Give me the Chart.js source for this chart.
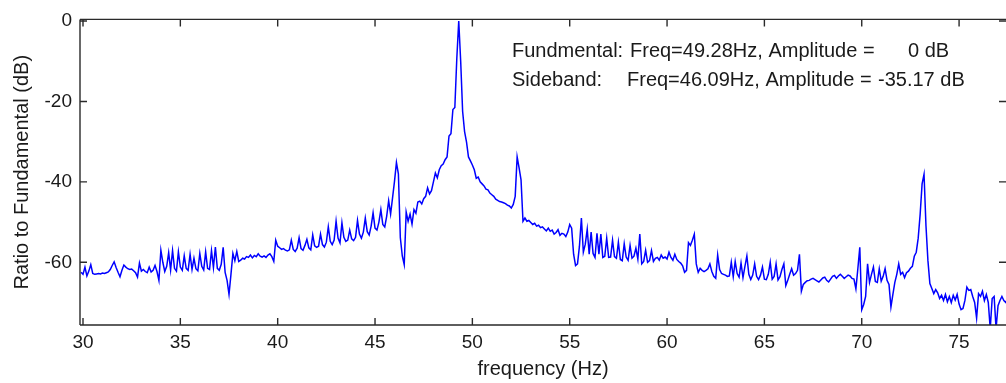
<!DOCTYPE html>
<html><head><meta charset="utf-8">
<script src="https://cdn.jsdelivr.net/npm/chart.js@4/dist/chart.umd.min.js"></script>
<style>html,body{margin:0;padding:0;background:#fff;}#wrap{width:1006px;height:383px;position:relative;}</style>
</head><body><div id="wrap"><canvas id="c" width="1006" height="383"></canvas></div>
<script>
// Spectrum bins (Hz): FFT grid start and bin width
const BIN_START_HZ = 29.9;
const BIN_WIDTH_HZ = 0.1;
// Ratio to fundamental (dB), one value per bin
const DB_29 = [-62.5];
const DB_30_34 = [
-63.0,-61.2,-63.4,-62.2,-60.6,-62.8,-63.0,-62.9,-62.8,-62.9,
-62.7,-62.8,-62.6,-62.4,-61.8,-60.8,-59.9,-61.3,-62.5,-63.6,
-62.0,-60.7,-61.2,-61.6,-61.8,-61.7,-62.1,-62.6,-63.7,-60.2,
-62.2,-61.8,-62.3,-62.6,-61.2,-62.4,-62.0,-60.8,-62.3,-64.5,
-57.0,-60.0,-62.3,-61.0,-57.6,-61.9,-57.1,-61.5,-62.2,-57.4];
const DB_35_39 = [
-61.2,-62.0,-58.4,-61.5,-62.0,-58.0,-61.8,-59.0,-61.6,-62.1,
-57.8,-61.0,-61.9,-57.4,-61.5,-61.8,-57.1,-61.3,-56.2,-61.5,
-62.0,-60.5,-56.3,-62.5,-64.5,-68.0,-63.0,-57.8,-59.6,-57.3,
-59.8,-59.5,-59.0,-59.2,-58.6,-58.8,-58.2,-58.9,-58.3,-58.6,
-57.9,-58.5,-58.7,-58.4,-58.8,-58.2,-57.9,-58.6,-59.8,-54.5];
const DB_40_44 = [
-56.0,-56.4,-56.8,-56.6,-57.0,-57.2,-56.9,-54.5,-56.8,-57.3,
-56.5,-53.9,-56.6,-57.0,-55.8,-54.3,-56.4,-56.9,-53.2,-55.9,
-56.3,-56.0,-53.0,-55.6,-56.2,-55.0,-51.2,-54.8,-55.6,-54.5,
-49.8,-54.0,-55.2,-50.2,-53.8,-54.8,-54.5,-52.0,-54.2,-54.6,
-53.8,-49.6,-53.0,-54.0,-52.5,-49.0,-52.4,-53.2,-51.0,-47.7];
const DB_45_49 = [
-51.5,-52.0,-50.0,-46.9,-50.6,-51.2,-48.5,-44.7,-48.0,-44.0,
-39.9,-35.2,-38.0,-53.9,-58.4,-60.6,-47.5,-49.8,-48.0,-50.5,
-46.9,-47.8,-45.0,-44.8,-45.5,-44.2,-43.6,-41.5,-43.0,-42.2,
-40.0,-37.8,-39.0,-37.0,-36.0,-35.6,-34.5,-33.8,-28.6,-28.0,
-22.0,-21.5,-9.4,0,-10.0,-22.5,-27.5,-30.1,-33.8,-34.8];
const DB_50_54 = [
-35.8,-37.0,-39.1,-38.8,-40.0,-40.5,-41.0,-41.8,-42.0,-42.8,
-43.2,-43.6,-44.3,-44.6,-44.9,-45.0,-45.2,-45.4,-45.8,-46.0,
-46.5,-45.6,-43.6,-33.8,-36.5,-39.5,-49.8,-49.0,-49.8,-49.6,
-50.1,-50.6,-50.3,-51.0,-50.8,-51.4,-51.2,-51.7,-52.2,-51.5,
-52.3,-52.0,-53.0,-52.6,-51.9,-53.3,-52.8,-53.0,-53.6,-52.5];
const DB_55_59 = [
-50.6,-51.5,-58.0,-60.8,-60.4,-56.0,-49.0,-57.5,-55.5,-51.8,
-58.0,-52.5,-57.8,-58.8,-52.8,-58.0,-53.0,-58.8,-58.5,-54.0,
-58.8,-58.7,-54.5,-58.6,-59.0,-55.0,-59.3,-59.6,-55.4,-58.7,
-59.5,-55.8,-59.0,-58.5,-56.5,-59.2,-53.0,-60.4,-59.8,-57.0,
-60.0,-59.6,-57.1,-59.8,-59.0,-58.8,-59.5,-58.2,-59.0,-58.7];
const DB_60_64 = [
-59.2,-57.5,-58.8,-59.5,-58.0,-59.3,-59.8,-60.2,-60.9,-62.5,
-62.0,-55.1,-55.8,-54.5,-53.0,-60.4,-62.5,-61.5,-62.0,-62.3,
-62.0,-61.6,-60.4,-62.3,-63.5,-64.0,-58.2,-61.8,-62.8,-63.0,
-63.2,-63.5,-63.4,-60.0,-63.6,-59.8,-62.8,-63.7,-60.2,-63.8,
-61.0,-58.4,-63.0,-64.3,-63.2,-60.4,-63.5,-64.3,-63.2,-61.2];
const DB_65_69 = [
-64.2,-64.3,-63.0,-60.0,-64.2,-63.5,-60.4,-64.4,-63.6,-61.8,
-60.4,-65.8,-64.5,-63.0,-61.6,-63.2,-62.8,-62.0,-58.0,-67.2,
-65.5,-65.0,-64.6,-64.5,-64.2,-64.0,-64.3,-64.6,-64.9,-64.4,
-63.9,-63.7,-64.5,-64.9,-64.2,-63.5,-63.3,-64.0,-63.4,-63.0,
-63.5,-64.0,-63.6,-63.2,-63.4,-64.0,-64.2,-66.6,-61.6,-56.3];
const DB_70_74 = [
-71.8,-70.5,-68.5,-60.4,-65.0,-63.0,-61.2,-64.8,-65.0,-61.6,
-64.7,-63.5,-61.6,-64.5,-65.5,-71.1,-68.0,-65.0,-63.0,-60.4,
-63.0,-62.5,-63.8,-62.6,-62.2,-61.5,-61.0,-58.5,-57.5,-54.0,
-48.1,-40.5,-38.1,-51.0,-59.6,-65.3,-66.5,-67.8,-66.8,-67.6,
-69.0,-68.2,-69.5,-68.0,-69.8,-68.5,-70.0,-68.2,-69.4,-68.0];
const DB_75_77 = [
-70.4,-71.8,-71.5,-69.5,-66.2,-67.0,-66.8,-68.5,-70.0,-73.9,
-67.8,-68.5,-67.2,-69.5,-68.0,-70.0,-76.5,-69.0,-68.5,-76.5,
-70.8,-69.5,-68.5,-69.5,-70.0,-69.0];

const X_TICKS = [30,35,40,45,50,55,60,65,70,75];
const Y_TICKS = [-60,-40,-20,0];
const X_LABEL = 'frequency (Hz)';
const Y_LABEL = 'Ratio to Fundamental (dB)';
const NOTE_LINES = [
  ['Fundmental:', 'Freq=49.28Hz, Amplitude =', '0 dB'],
  ['Sideband:', 'Freq=46.09Hz, Amplitude =', '-35.17 dB']
];

const DB_ALL = [].concat(DB_29, DB_30_34, DB_35_39, DB_40_44, DB_45_49, DB_50_54,
  DB_55_59, DB_60_64, DB_65_69, DB_70_74, DB_75_77);
const points = DB_ALL.map((v, i) => ({x: +(BIN_START_HZ + i * BIN_WIDTH_HZ).toFixed(2), y: v}));

const FONT = "'Liberation Sans', Arial, Helvetica, sans-serif";
const TXT = '#1a1a1a';
const AX = '#2a2a2a';

const framePlugin = {
  id: 'frame',
  afterDatasetsDraw(chart) {
    const {ctx, chartArea: a, scales: {x, y}} = chart;
    ctx.save();
    ctx.strokeStyle = AX;
    ctx.lineWidth = 1.4;
    ctx.beginPath();
    ctx.moveTo(a.left, a.top); ctx.lineTo(a.right, a.top);
    ctx.moveTo(a.left, a.bottom); ctx.lineTo(a.right, a.bottom);
    ctx.moveTo(a.left, a.top); ctx.lineTo(a.left, a.bottom);
    const tl = 7;
    x.ticks.forEach(t => {
      const px = x.getPixelForValue(t.value);
      ctx.moveTo(px, a.bottom); ctx.lineTo(px, a.bottom - tl);
      ctx.moveTo(px, a.top); ctx.lineTo(px, a.top + tl);
    });
    y.ticks.forEach(t => {
      const py = y.getPixelForValue(t.value);
      ctx.moveTo(a.left, py); ctx.lineTo(a.left + tl, py);
      ctx.moveTo(a.right, py); ctx.lineTo(a.right - tl, py);
    });
    ctx.stroke();
    ctx.restore();
  },
  afterDraw(chart) {
    const {ctx} = chart;
    ctx.save();
    ctx.fillStyle = TXT;
    ctx.font = "20px " + FONT;
    ctx.textBaseline = 'alphabetic';
    ctx.textAlign = 'left';
    const cols = [[512, 630, 908], [512, 627, 878]];
    const base = [57, 85.5];
    NOTE_LINES.forEach((line, r) => {
      line.forEach((s, c) => ctx.fillText(s, cols[r][c], base[r]));
    });
    ctx.restore();
  }
};

new Chart(document.getElementById('c'), {
  type: 'line',
  data: {datasets: [{
    data: points, borderColor: '#0000ff', borderWidth: 1.5, pointRadius: 0,
    tension: 0, fill: false, clip: 0
  }]},
  options: {
    responsive: false, animation: false, events: [],
    layout: {padding: {top: 16, right: 0, bottom: 0, left: 0}},
    plugins: {legend: {display: false}, tooltip: {enabled: false}},
    scales: {
      x: {
        type: 'linear', min: 29.846, max: 77.41,
        afterBuildTicks: s => { s.ticks = X_TICKS.map(v => ({value: v})); },
        afterFit: s => { s.height = 58; },
        grid: {display: false, drawTicks: false},
        border: {display: false},
        ticks: {font: {family: FONT, size: 19}, color: TXT, padding: 6, maxRotation: 0, autoSkip: false,
                callback: v => String(v)},
        title: {display: true, text: X_LABEL, font: {family: FONT, size: 20}, color: TXT,
                padding: {top: 0, bottom: 2}}
      },
      y: {
        type: 'linear', min: -75.6, max: 0.4,
        afterBuildTicks: s => { s.ticks = Y_TICKS.map(v => ({value: v})); },
        afterFit: s => { s.width = 80; },
        grid: {display: false, drawTicks: false},
        border: {display: false},
        ticks: {font: {family: FONT, size: 19}, color: TXT, padding: 8, autoSkip: false,
                callback: v => String(v)},
        title: {display: true, text: Y_LABEL, font: {family: FONT, size: 20}, color: TXT,
                padding: {top: 10, bottom: 0}}
      }
    }
  },
  plugins: [framePlugin]
});
</script></body></html>
